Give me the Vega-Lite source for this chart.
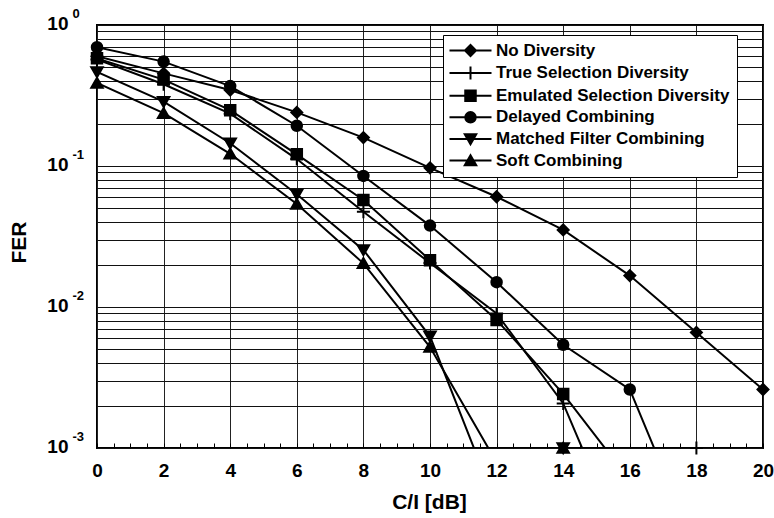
{
  "$schema": "https://vega.github.io/schema/vega-lite/v6.json",
  "width": 666,
  "height": 423,
  "autosize": {"type": "none"},
  "padding": {"left": 97, "top": 25, "right": 11, "bottom": 70},
  "background": "white",
  "config": {
    "font": "Liberation Sans",
    "view": {"stroke": "black", "strokeWidth": 2},
    "axis": {
      "labelFont": "Liberation Sans",
      "titleFont": "Liberation Sans",
      "labelColor": "black",
      "titleColor": "black",
      "labelFontWeight": "bold",
      "titleFontWeight": "bold"
    }
  },
  "data": {
    "values": [
      {"scheme": "No Diversity", "CI": 0, "FER": 0.6},
      {"scheme": "No Diversity", "CI": 2, "FER": 0.454},
      {"scheme": "No Diversity", "CI": 4, "FER": 0.346},
      {"scheme": "No Diversity", "CI": 6, "FER": 0.24},
      {"scheme": "No Diversity", "CI": 8, "FER": 0.159},
      {"scheme": "No Diversity", "CI": 10, "FER": 0.097},
      {"scheme": "No Diversity", "CI": 12, "FER": 0.0605},
      {"scheme": "No Diversity", "CI": 14, "FER": 0.0352},
      {"scheme": "No Diversity", "CI": 16, "FER": 0.0167},
      {"scheme": "No Diversity", "CI": 18, "FER": 0.0066},
      {"scheme": "No Diversity", "CI": 20, "FER": 0.0026},
      {"scheme": "True Selection Diversity", "CI": 0, "FER": 0.57},
      {"scheme": "True Selection Diversity", "CI": 2, "FER": 0.38},
      {"scheme": "True Selection Diversity", "CI": 4, "FER": 0.235},
      {"scheme": "True Selection Diversity", "CI": 6, "FER": 0.112},
      {"scheme": "True Selection Diversity", "CI": 8, "FER": 0.0474},
      {"scheme": "True Selection Diversity", "CI": 10, "FER": 0.0205},
      {"scheme": "True Selection Diversity", "CI": 12, "FER": 0.009},
      {"scheme": "True Selection Diversity", "CI": 14, "FER": 0.00207},
      {"scheme": "True Selection Diversity", "CI": 16, "FER": 0.00016},
      {"scheme": "True Selection Diversity", "CI": 18, "FER": 0.001},
      {"scheme": "Emulated Selection Diversity", "CI": 0, "FER": 0.58},
      {"scheme": "Emulated Selection Diversity", "CI": 2, "FER": 0.41},
      {"scheme": "Emulated Selection Diversity", "CI": 4, "FER": 0.249},
      {"scheme": "Emulated Selection Diversity", "CI": 6, "FER": 0.121},
      {"scheme": "Emulated Selection Diversity", "CI": 8, "FER": 0.0574},
      {"scheme": "Emulated Selection Diversity", "CI": 10, "FER": 0.0215},
      {"scheme": "Emulated Selection Diversity", "CI": 12, "FER": 0.0081},
      {"scheme": "Emulated Selection Diversity", "CI": 14, "FER": 0.00242},
      {"scheme": "Emulated Selection Diversity", "CI": 16, "FER": 0.00059},
      {"scheme": "Delayed Combining", "CI": 0, "FER": 0.695},
      {"scheme": "Delayed Combining", "CI": 2, "FER": 0.55},
      {"scheme": "Delayed Combining", "CI": 4, "FER": 0.369},
      {"scheme": "Delayed Combining", "CI": 6, "FER": 0.193},
      {"scheme": "Delayed Combining", "CI": 8, "FER": 0.085},
      {"scheme": "Delayed Combining", "CI": 10, "FER": 0.0378},
      {"scheme": "Delayed Combining", "CI": 12, "FER": 0.015},
      {"scheme": "Delayed Combining", "CI": 14, "FER": 0.0054},
      {"scheme": "Delayed Combining", "CI": 16, "FER": 0.0026},
      {"scheme": "Delayed Combining", "CI": 18, "FER": 0.00019},
      {"scheme": "Matched Filter Combining", "CI": 0, "FER": 0.465},
      {"scheme": "Matched Filter Combining", "CI": 2, "FER": 0.286},
      {"scheme": "Matched Filter Combining", "CI": 4, "FER": 0.145},
      {"scheme": "Matched Filter Combining", "CI": 6, "FER": 0.063},
      {"scheme": "Matched Filter Combining", "CI": 8, "FER": 0.0254},
      {"scheme": "Matched Filter Combining", "CI": 10, "FER": 0.0062},
      {"scheme": "Matched Filter Combining", "CI": 12, "FER": 0.00039},
      {"scheme": "Matched Filter Combining", "CI": 14, "FER": 0.001},
      {"scheme": "Soft Combining", "CI": 0, "FER": 0.388},
      {"scheme": "Soft Combining", "CI": 2, "FER": 0.237},
      {"scheme": "Soft Combining", "CI": 4, "FER": 0.122},
      {"scheme": "Soft Combining", "CI": 6, "FER": 0.0537},
      {"scheme": "Soft Combining", "CI": 8, "FER": 0.0204},
      {"scheme": "Soft Combining", "CI": 10, "FER": 0.0052},
      {"scheme": "Soft Combining", "CI": 12, "FER": 0.00079},
      {"scheme": "Soft Combining", "CI": 14, "FER": 0.001}
    ]
  },
  "layer": [
    {
      "mark": {"type": "line", "clip": true, "strokeWidth": 2},
      "encoding": {
        "x": {
          "field": "CI",
          "type": "quantitative",
          "scale": {"domain": [0, 20], "nice": false},
          "axis": {
            "orient": "bottom",
            "values": [0, 2, 4, 6, 8, 10, 12, 14, 16, 18, 20],
            "grid": true,
            "gridColor": "#222222",
            "gridWidth": 1,
            "gridOpacity": 1,
            "domain": false,
            "ticks": false,
            "tickSize": 0,
            "labelFontSize": 19,
            "labelPadding": 13,
            "labelFlush": false,
            "labelOverlap": false,
            "title": "C/I [dB]",
            "titleFontSize": 21,
            "titlePadding": 11,
            "titleX": 332
          }
        },
        "y": {
          "field": "FER",
          "type": "quantitative",
          "scale": {"type": "log", "domain": [0.001, 1], "nice": false},
          "axis": {
            "orient": "left",
            "values": [0.001, 0.002, 0.003, 0.004, 0.005, 0.006, 0.007, 0.008, 0.009,
                       0.01, 0.02, 0.03, 0.04, 0.05, 0.06, 0.07, 0.08, 0.09,
                       0.1, 0.2, 0.3, 0.4, 0.5, 0.6, 0.7, 0.8, 0.9, 1],
            "labelExpr": "abs(log(datum.value) / LN10 - round(log(datum.value) / LN10)) < 0.000001 ? '10' : ''",
            "grid": true,
            "gridColor": "#111111",
            "gridWidth": 1,
            "gridOpacity": 1,
            "domain": false,
            "ticks": false,
            "tickSize": 0,
            "labelFontSize": 19,
            "labelPadding": 29,
            "labelOffset": -1.5,
            "labelOverlap": false,
            "labelFlush": false,
            "title": "FER",
            "titleFontSize": 21,
            "titlePadding": 17,
            "titleY": 217
          }
        },
        "color": {
          "field": "scheme",
          "type": "nominal",
          "scale": {
            "domain": ["No Diversity", "True Selection Diversity", "Emulated Selection Diversity", "Delayed Combining", "Matched Filter Combining", "Soft Combining"],
            "range": ["black", "black", "black", "black", "black", "black"]
          },
          "legend": {
            "orient": "none",
            "legendX": 346,
            "legendY": 10,
            "title": null,
            "padding": 7,
            "rowPadding": 2.6,
            "symbolSize": 100,
            "symbolOffset": 12,
            "symbolStrokeWidth": 2,
            "labelOffset": 17,
            "labelFont": "Liberation Sans",
            "labelFontSize": 17,
            "labelFontWeight": "bold",
            "labelColor": "black",
            "labelLimit": 400,
            "labelExpr": "datum.label + '   '",
            "strokeColor": "black",
            "fillColor": "white",
            "encode": {
              "symbols": {
                "update": {
                  "shape": {"signal": "datum.value === 'No Diversity' ? 'M-4.2,0H4.2M-1.1,0L0,-1.1L1.1,0L0,1.1Z' : datum.value === 'True Selection Diversity' ? 'M-4.2,0H4.2M0,-1.3V1.3' : datum.value === 'Emulated Selection Diversity' ? 'M-4.2,0H4.2M-1.05,-1.05H1.05V1.05H-1.05Z' : datum.value === 'Delayed Combining' ? 'M-4.2,0H4.2M-1.05,0A1.05,1.05,0,1,0,1.05,0A1.05,1.05,0,1,0,-1.05,0Z' : datum.value === 'Matched Filter Combining' ? 'M-4.2,0H4.2M-1.15,-0.95H1.15L0,1.05Z' : 'M-4.2,0H4.2M-1.15,0.95H1.15L0,-1.05Z'"},
                  "fill": {"value": "black"},
                  "stroke": {"value": "black"},
                  "strokeWidth": {"value": 2},
                  "opacity": {"value": 1}
                }
              }
            }
          }
        },
        "order": {"field": "CI", "type": "quantitative"}
      }
    },
    {
      "transform": [{"filter": "datum.FER >= 0.001"}],
      "mark": {"type": "point", "filled": true, "color": "black", "stroke": "black", "strokeWidth": 2, "size": 100, "opacity": 1},
      "encoding": {
        "x": {
          "field": "CI",
          "type": "quantitative",
          "axis": {
            "orient": "bottom",
            "values": [0, 0.5, 1, 1.5, 2, 2.5, 3, 3.5, 4, 4.5, 5, 5.5, 6, 6.5, 7, 7.5, 8, 8.5, 9, 9.5, 10,
                       10.5, 11, 11.5, 12, 12.5, 13, 13.5, 14, 14.5, 15, 15.5, 16, 16.5, 17, 17.5, 18, 18.5, 19, 19.5, 20],
            "grid": false,
            "domain": false,
            "labels": false,
            "ticks": true,
            "tickSize": -5,
            "tickColor": "black",
            "tickWidth": 1,
            "title": null
          }
        },
        "y": {
          "field": "FER",
          "type": "quantitative",
          "axis": {
            "orient": "left",
            "values": [0.001, 0.01, 0.1, 1],
            "labelExpr": "'' + round(log(datum.value) / LN10)",
            "grid": false,
            "domain": false,
            "ticks": false,
            "tickSize": 0,
            "labelFontSize": 13,
            "labelAlign": "left",
            "labelPadding": 25,
            "labelOffset": -11.5,
            "labelOverlap": false,
            "labelFlush": false,
            "title": null
          }
        },
        "shape": {
          "field": "scheme",
          "type": "nominal",
          "sort": "ascending",
          "scale": {
            "range": [
              "M-1.05,0A1.05,1.05,0,1,0,1.05,0A1.05,1.05,0,1,0,-1.05,0Z",
              "M-1.05,-1.05H1.05V1.05H-1.05Z",
              "M-1.15,-0.95H1.15L0,1.05Z",
              "M-1.1,0L0,-1.1L1.1,0L0,1.1Z",
              "M-1.15,0.95H1.15L0,-1.05Z",
              "M-1.3,0H1.3M0,-1.3V1.3"
            ]
          },
          "legend": null
        }
      }
    }
  ],
  "resolve": {"axis": {"x": "independent", "y": "independent"}}
}
